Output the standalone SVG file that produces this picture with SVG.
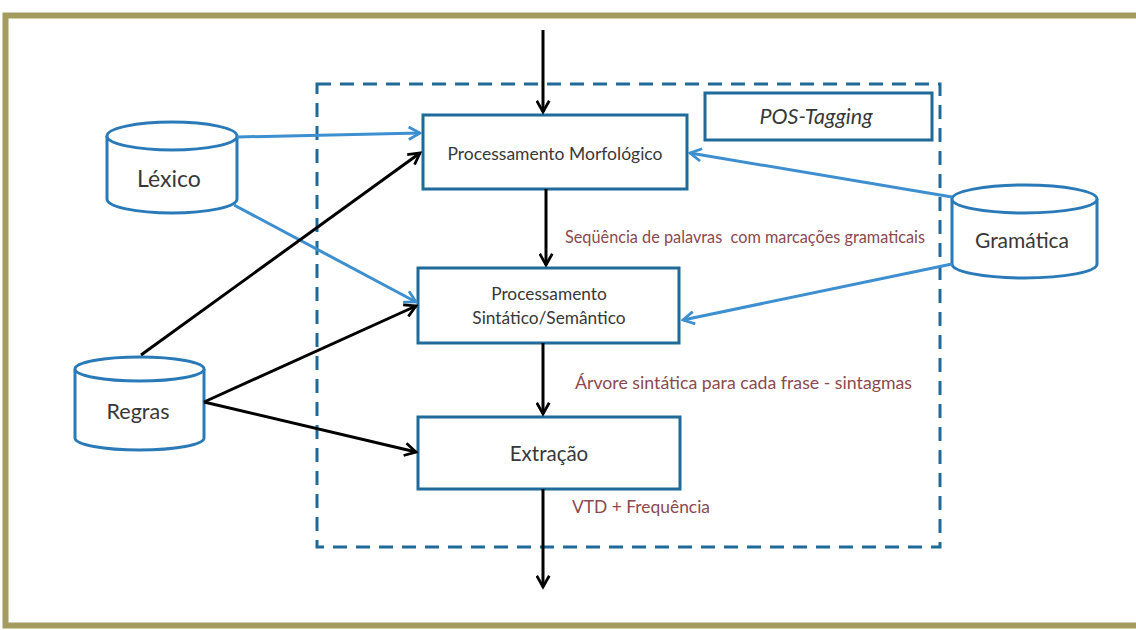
<svg xmlns="http://www.w3.org/2000/svg" width="1136" height="630" viewBox="0 0 1136 630">
<defs>
<style>
.box{fill:#fff;stroke:#1f6a99;stroke-width:3}
.cyl{fill:#fff;stroke:#2a7ab8;stroke-width:3}
.t{font-family:Lato,"Open Sans","Liberation Sans",sans-serif;fill:#383838;text-anchor:middle}
.lbl{font-family:Lato,"Open Sans","Liberation Sans",sans-serif;fill:#8a4a4f;font-size:16.5px}
.blk{stroke:#000;stroke-width:3;fill:none}
.blu{stroke:#3d8fcf;stroke-width:3;fill:none}
</style>
<marker id="ak" viewBox="0 0 12 12" refX="10" refY="6" markerWidth="5" markerHeight="5" orient="auto" markerUnits="strokeWidth">
<path d="M1,1 L10,6 L1,11" fill="none" stroke="#000" stroke-width="2.2"/>
</marker>
<marker id="ab" viewBox="0 0 12 12" refX="10" refY="6" markerWidth="5" markerHeight="5" orient="auto" markerUnits="strokeWidth">
<path d="M1,1 L10,6 L1,11" fill="none" stroke="#3d8fcf" stroke-width="2.2"/>
</marker>
</defs>
<rect x="0" y="0" width="1136" height="630" fill="#fff"/>
<rect id="frame" x="5.5" y="15.5" width="1140" height="610" fill="none" stroke="#a39c5e" stroke-width="6"/>

<g id="posgroup">
<rect x="317" y="84" width="623" height="463" fill="none" stroke="#1f6a99" stroke-width="3" stroke-dasharray="14,9"/>
</g>
<g id="pos">
<rect x="705" y="93" width="227" height="47" class="box"/>
<text x="816" y="124" class="t" font-size="21.5" font-style="italic">POS-Tagging</text>
</g>
<g id="morf">
<rect x="423" y="115" width="264" height="74" class="box"/>
<text x="555" y="160" class="t" font-size="17.5">Processamento Morfológico</text>
</g>
<g id="sint">
<rect x="418" y="268" width="261" height="75" class="box"/>
<text x="549" y="300" class="t" font-size="17.3">Processamento</text>
<text x="549" y="324" class="t" font-size="17.3">Sintático/Semântico</text>
</g>
<g id="extr">
<rect x="418" y="417" width="262" height="72" class="box"/>
<text x="549" y="461" class="t" font-size="20.5">Extração</text>
</g>
<g id="lexico">
<path d="M107,136 L107,199 A65,14 0 0 0 237,199 L237,136" class="cyl"/>
<ellipse cx="172" cy="136" rx="65" ry="14" class="cyl"/>
<text x="169" y="187" class="t" font-size="23">Léxico</text>
</g>
<g id="regras">
<path d="M75,369 L75,438 A64.5,12 0 0 0 204,438 L204,369" class="cyl"/>
<ellipse cx="139.5" cy="369" rx="64.5" ry="12" class="cyl"/>
<text x="138" y="419" class="t" font-size="21.5">Regras</text>
</g>
<g id="gramatica">
<path d="M952,199 L952,264 A72.5,14 0 0 0 1097,264 L1097,199" class="cyl"/>
<ellipse cx="1024.5" cy="199" rx="72.5" ry="14" class="cyl"/>
<text x="1022" y="248" class="t" font-size="21">Gramática</text>
</g>

<g id="connectors">
<line x1="543" y1="30" x2="543" y2="112" class="blk" marker-end="url(#ak)"/>
<line x1="546" y1="189" x2="546" y2="265" class="blk" marker-end="url(#ak)"/>
<line x1="543" y1="343" x2="543" y2="414" class="blk" marker-end="url(#ak)"/>
<line x1="543" y1="489" x2="543" y2="587" class="blk" marker-end="url(#ak)"/>
<line x1="237" y1="137" x2="420" y2="133" class="blu" marker-end="url(#ab)"/>
<line x1="234" y1="205" x2="416" y2="302" class="blu" marker-end="url(#ab)"/>
<line x1="141" y1="355" x2="420" y2="153" class="blk" marker-end="url(#ak)"/>
<line x1="204" y1="402" x2="416" y2="306" class="blk" marker-end="url(#ak)"/>
<line x1="204" y1="402" x2="416" y2="452" class="blk" marker-end="url(#ak)"/>
<line x1="952" y1="197" x2="690" y2="153" class="blu" marker-end="url(#ab)"/>
<line x1="952" y1="264" x2="683" y2="320" class="blu" marker-end="url(#ab)"/>
</g>
<g id="labels">
<text x="565" y="243" class="lbl" xml:space="preserve" textLength="360" lengthAdjust="spacingAndGlyphs">Seqüência de palavras  com marcações gramaticais</text>
<text x="575" y="389" class="lbl" textLength="337" lengthAdjust="spacingAndGlyphs">Árvore sintática para cada frase - sintagmas</text>
<text x="572" y="513" class="lbl" textLength="138" lengthAdjust="spacingAndGlyphs">VTD + Frequência</text>
</g>
</svg>
